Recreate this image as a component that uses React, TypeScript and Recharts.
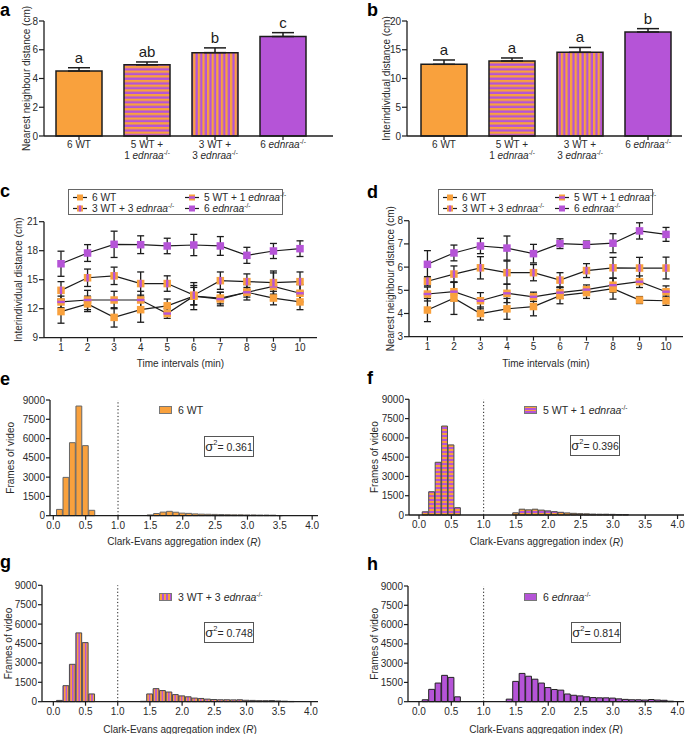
import React from 'react';
import {
  ComposedChart,
  BarChart,
  LineChart,
  Bar,
  Line,
  XAxis,
  YAxis,
  ErrorBar,
  ReferenceLine,
  LabelList,
  Cell,
} from 'recharts';

const ORANGE = '#F9A13D';
const PURPLE = '#B554D7';
const INK = '#1c1c1c';
const TICK = '#2a2a2a';
const FONT = '"Liberation Sans", Arial, Helvetica, sans-serif';

// ---------- panels a / b ----------
const groupKeys = ['6WT', '5WT+1', '3WT+3', '6E'];
const groupLine1 = ['6 WT', '5 WT +', '3 WT +', '6 '];
const groupLine1Gene = [false, false, false, true];
const groupLine2 = ['', '1 ', '3 ', ''];
const groupFills = [ORANGE, 'url(#hStripeBar)', 'url(#vStripeBar)', PURPLE];

const nndMean = [4.52, 4.95, 5.8, 6.92];
const nndSem = [0.23, 0.2, 0.33, 0.27];
const nndLetters = ['a', 'ab', 'b', 'c'];
const nndTicks = [0, 2, 4, 6, 8];

const iidMean = [12.47, 13.04, 14.55, 18.09];
const iidSem = [0.75, 0.53, 0.85, 0.58];
const iidLetters = ['a', 'a', 'a', 'b'];
const iidTicks = [0, 5, 10, 15, 20];

// ---------- panels c / d ----------
const intervals = [1, 2, 3, 4, 5, 6, 7, 8, 9, 10];

const cWT6 = [11.7, 12.5, 11.1, 11.9, 12.3, 13.3, 13.1, 13.7, 13.1, 12.7];
const cWT6Sem = [1.2, 0.8, 1.0, 1.3, 0.7, 1.4, 0.6, 0.8, 0.7, 0.8];
const c51 = [12.7, 12.9, 12.9, 12.9, 11.5, 13.3, 13.0, 13.7, 14.3, 13.6];
const c51Sem = [0.6, 1.0, 0.9, 0.9, 0.5, 0.9, 0.7, 0.5, 1.4, 0.9];
const c33 = [13.9, 15.2, 15.4, 14.6, 14.6, 13.4, 14.9, 14.8, 14.7, 14.8];
const c33Sem = [0.9, 0.9, 0.9, 1.2, 0.8, 1.0, 0.9, 0.8, 1.2, 1.0];
const cE6 = [16.65, 17.76, 18.66, 18.62, 18.49, 18.59, 18.49, 17.52, 17.97, 18.21];
const cE6Sem = [1.3, 0.87, 1.36, 0.92, 0.8, 1.1, 0.97, 0.83, 0.78, 0.81];
const cTicks = [9, 12, 15, 18, 21];

const dWT6 = [4.15, 4.66, 4.0, 4.2, 4.3, 4.77, 4.9, 5.07, 4.58, 4.55];
const dWT6Sem = [0.5, 0.7, 0.28, 0.45, 0.4, 0.35, 0.25, 0.45, 0.15, 0.2];
const d51 = [4.84, 4.94, 4.55, 4.87, 4.72, 4.9, 5.03, 5.22, 5.37, 4.94];
const d51Sem = [0.3, 0.4, 0.35, 0.4, 0.2, 0.25, 0.2, 0.3, 0.25, 0.25];
const d33 = [5.39, 5.7, 5.97, 5.76, 5.76, 5.44, 5.85, 5.97, 5.96, 5.96];
const d33Sem = [0.2, 0.35, 0.48, 0.5, 0.35, 0.32, 0.3, 0.45, 0.46, 0.47];
const dE6 = [6.12, 6.61, 6.91, 6.82, 6.58, 7.01, 6.97, 7.03, 7.56, 7.41];
const dE6Sem = [0.59, 0.34, 0.33, 0.52, 0.4, 0.21, 0.15, 0.41, 0.35, 0.3];
const dTicks = [3, 4, 5, 6, 7, 8];

// ---------- panels e-h ----------
const rBins = [
  0.1, 0.2, 0.3, 0.4, 0.5, 0.6, 0.7, 0.8, 0.9, 1.0, 1.1, 1.2, 1.3, 1.4, 1.5, 1.6, 1.7, 1.8, 1.9, 2.0,
  2.1, 2.2, 2.3, 2.4, 2.5, 2.6, 2.7, 2.8, 2.9, 3.0, 3.1, 3.2, 3.3, 3.4, 3.5, 3.6, 3.7, 3.8, 3.9,
];
const rTicks = [0, 0.5, 1, 1.5, 2, 2.5, 3, 3.5, 4];
const countTicks = [0, 1500, 3000, 4500, 6000, 7500, 9000];

const framesWT6 = [
  490, 2980, 5680, 8530, 5450, 420, 0, 0, 0, 0, 0, 0, 0, 0,
  60, 170, 280, 340, 270, 200, 180, 140, 120, 110, 100, 90, 80, 70, 70, 60, 60, 50, 50, 40, 10,
  0, 0, 0, 0,
];
const frames51 = [
  250, 1810, 4100, 6920, 5450, 570, 0, 0, 0, 0, 0, 0, 0, 0,
  170, 450, 400, 450, 380, 320, 260, 210, 160, 130, 100, 90, 70, 60, 60, 50, 40, 30, 0, 0, 0,
  0, 0, 0, 0,
];
const frames33 = [
  100, 1240, 2890, 5320, 4570, 600, 0, 0, 0, 0, 0, 0, 0, 30,
  600, 1010, 860, 750, 550, 450, 380, 280, 250, 200, 170, 150, 150, 140, 150, 110, 100, 80, 80, 90, 60,
  40, 20, 0, 0,
];
const framesE6 = [
  150, 960, 1450, 2050, 1890, 380, 0, 0, 0, 0, 0, 0, 0, 200,
  1580, 2200, 1980, 1750, 1450, 1100, 950, 900, 600, 500, 450, 380, 320, 300, 300, 280, 220, 180, 150, 150, 130,
  170, 130, 110, 40,
];
const sigmaValues = ['0.361', '0.396', '0.748', '0.814'];

// ---------- helpers ----------
const Gene = ({ prefix }: { prefix: string }) => (
  <span>
    {prefix}
    <i>ednraa</i>
    <sup style={{ fontSize: 6.5, lineHeight: 0, verticalAlign: 'super' }}>-/-</sup>
  </span>
);

function GroupTick(props: any) {
  const { x, y, payload } = props;
  const i = groupKeys.indexOf(payload.value);
  return (
    <text textAnchor="middle" fontSize={10} fill={TICK} fontFamily={FONT}>
      <tspan x={x} y={y + 7}>
        {groupLine1[i]}
        {groupLine1Gene[i] ? <tspan fontStyle="italic">ednraa</tspan> : null}
        {groupLine1Gene[i] ? <tspan dy={-4} fontSize={6.5}>-/-</tspan> : null}
      </tspan>
      {groupLine2[i] ? (
        <tspan x={x} y={y + 18}>
          {groupLine2[i]}
          <tspan fontStyle="italic">ednraa</tspan>
          <tspan dy={-4} fontSize={6.5}>-/-</tspan>
        </tspan>
      ) : null}
    </text>
  );
}

const yTitle = (text: string, cx: number, cy: number) => ({
  content: () => (
    <text
      x={cx}
      y={cy}
      transform={`rotate(-90, ${cx}, ${cy})`}
      textAnchor="middle"
      dominantBaseline="central"
      fontSize={10}
      fill={TICK}
      fontFamily={FONT}
    >
      {text}
    </text>
  ),
});

const xTitle = (cx: number, cy: number, clark: boolean) => ({
  content: () => (
    <text x={cx} y={cy} textAnchor="middle" dominantBaseline="central" fontSize={10} fill={TICK} fontFamily={FONT}>
      {clark ? (
        <>
          Clark-Evans aggregation index (<tspan fontStyle="italic">R</tspan>)
        </>
      ) : (
        'Time intervals (min)'
      )}
    </text>
  ),
});

const axisLine = { stroke: INK, strokeWidth: 1.3 };
const tickLine = { stroke: INK, strokeWidth: 1.2 };
const tickStyle = { fontSize: 10, fill: TICK, fontFamily: FONT };

// ---------- bar charts a/b ----------
function GroupBarChart(p: any) {
  const data = groupKeys.map((g, i) => ({
    g,
    mean: p.mean[i],
    err: [0, p.sem[i]],
    top: p.mean[i] + p.sem[i],
    letter: p.letters[i],
  }));
  const plotTop = p.margin.top;
  const plotBottom = p.height - p.margin.bottom - 34;
  return (
    <ComposedChart width={p.width} height={p.height} data={data} margin={p.margin}>
      <XAxis
        dataKey="g"
        type="category"
        padding={p.padding}
        height={34}
        interval={0}
        tick={(t: any) => <GroupTick {...t} />}
        tickLine={tickLine}
        axisLine={axisLine}
        tickSize={4}
        tickMargin={1}
      />
      <YAxis
        type="number"
        domain={[p.ticks[0], p.ticks[p.ticks.length - 1]]}
        ticks={p.ticks}
        interval={0}
        width={p.yWidth}
        tick={tickStyle}
        tickLine={tickLine}
        axisLine={axisLine}
        tickSize={5}
        tickMargin={1}
        label={yTitle(p.yLabel, p.yLabelX, (plotTop + plotBottom) / 2)}
      />
      <Bar dataKey="mean" barSize={46} stroke={INK} strokeWidth={1.5} isAnimationActive={false}>
        {data.map((d, i) => (
          <Cell key={d.g} fill={groupFills[i]} />
        ))}
        <ErrorBar dataKey="err" width={11} stroke={INK} strokeWidth={1.5} direction="y" />
      </Bar>
      <Line dataKey="top" stroke="none" dot={false} activeDot={false} legendType="none" isAnimationActive={false}>
        <LabelList dataKey="letter" position="top" offset={5} fontSize={15} fill={INK} fontFamily={FONT} />
      </Line>
    </ComposedChart>
  );
}

// ---------- line charts c/d ----------
function markerEl(kind: string, cx: number, cy: number, key: string, s = 7) {
  const h = s / 2;
  const fill = kind === 'p' ? PURPLE : ORANGE;
  return (
    <g key={key}>
      <rect x={cx - h} y={cy - h} width={s} height={s} fill={fill} />
      {kind === 'h' ? <rect x={cx - h} y={cy - 1.2} width={s} height={2.4} fill={PURPLE} /> : null}
      {kind === 'v' ? <rect x={cx - 1.2} y={cy - h} width={2.4} height={s} fill={PURPLE} /> : null}
    </g>
  );
}

const seriesDefs = [
  { key: 'wt6', kind: 'o' },
  { key: 'm51', kind: 'h' },
  { key: 'm33', kind: 'v' },
  { key: 'e6', kind: 'p' },
];

function TimeChart(p: any) {
  const data = intervals.map((t, i) => ({
    t,
    wt6: p.s[0][i],
    wt6e: p.e[0][i],
    m51: p.s[1][i],
    m51e: p.e[1][i],
    m33: p.s[2][i],
    m33e: p.e[2][i],
    e6: p.s[3][i],
    e6e: p.e[3][i],
  }));
  const plotTop = p.margin.top;
  const plotBottom = p.height - p.margin.bottom - 20;
  const plotLeft = p.yWidth;
  const plotRight = p.width - p.margin.right;
  return (
    <LineChart width={p.width} height={p.height} data={data} margin={p.margin}>
      <XAxis
        dataKey="t"
        type="number"
        domain={p.xDomain}
        ticks={intervals}
        interval={0}
        allowDataOverflow
        height={20}
        tick={tickStyle}
        tickLine={tickLine}
        axisLine={axisLine}
        tickSize={4}
        tickMargin={2}
        label={xTitle((plotLeft + plotRight) / 2, 183, false)}
      />
      <YAxis
        type="number"
        domain={[p.ticks[0], p.ticks[p.ticks.length - 1]]}
        ticks={p.ticks}
        interval={0}
        width={p.yWidth}
        tick={tickStyle}
        tickLine={tickLine}
        axisLine={axisLine}
        tickSize={5}
        tickMargin={1}
        label={yTitle(p.yLabel, p.yLabelX, (plotTop + plotBottom) / 2)}
      />
      {seriesDefs.map((s) => (
        <Line
          key={s.key}
          dataKey={s.key}
          stroke={INK}
          strokeWidth={1.2}
          isAnimationActive={false}
          activeDot={false}
          dot={(d: any) => markerEl(s.kind, d.cx, d.cy, `${s.key}-${d.index}`, 7.5)}
        >
          <ErrorBar dataKey={`${s.key}e`} width={3.5} stroke={INK} strokeWidth={1.3} direction="y" />
        </Line>
      ))}
    </LineChart>
  );
}

// ---------- histograms e-h ----------
function Histo(p: any) {
  const data = rBins.map((r, i) => ({ r, n: p.counts[i] }));
  const plotTop = p.margin.top;
  const plotBottom = p.height - p.margin.bottom - p.xHeight;
  const plotLeft = p.yWidth;
  const plotRight = p.width - p.margin.right;
  return (
    <BarChart width={p.width} height={p.height} data={data} margin={p.margin}>
      <XAxis
        dataKey="r"
        type="number"
        domain={p.xDomain}
        ticks={rTicks}
        interval={0}
        allowDataOverflow
        height={p.xHeight}
        tick={tickStyle}
        tickFormatter={(v: number) => v.toFixed(1)}
        tickLine={tickLine}
        axisLine={axisLine}
        tickSize={4}
        tickMargin={2}
        label={xTitle((plotLeft + plotRight) / 2, p.xLabelY, true)}
      />
      <YAxis
        type="number"
        domain={[0, 9000]}
        ticks={countTicks}
        interval={0}
        width={p.yWidth}
        tick={tickStyle}
        tickLine={tickLine}
        axisLine={axisLine}
        tickSize={4}
        tickMargin={1}
        label={yTitle('Frames of video', p.yLabelX, (plotTop + plotBottom) / 2)}
      />
      <ReferenceLine x={1} stroke={INK} strokeWidth={1} strokeDasharray="1.2 2.2" />
      <Bar dataKey="n" fill={p.fill} stroke={p.stroke} strokeWidth={1} barSize={6.5} isAnimationActive={false} />
    </BarChart>
  );
}

// ---------- overlays ----------
function LineLegend({ left, top }: { left: number; top: number }) {
  const items = [
    { kind: 'o', label: <span>6 WT</span>, x: 4, y: 2 },
    { kind: 'h', label: <Gene prefix="5 WT + 1 " />, x: 116, y: 2 },
    { kind: 'v', label: <Gene prefix="3 WT + 3 " />, x: 4, y: 13 },
    { kind: 'p', label: <Gene prefix="6 " />, x: 116, y: 13 },
  ];
  return (
    <div
      style={{
        position: 'absolute',
        left,
        top,
        width: 215,
        height: 26,
        border: '1px solid #666',
        boxSizing: 'border-box',
        background: '#fff',
        fontFamily: FONT,
        fontSize: 10.2,
        color: TICK,
      }}
    >
      {items.map((it, i) => (
        <div
          key={i}
          style={{ position: 'absolute', left: it.x, top: it.y, height: 11, display: 'flex', alignItems: 'center', whiteSpace: 'nowrap' }}
        >
          <svg width={14} height={9} style={{ marginRight: 5 }}>
            <line x1={0} y1={4.5} x2={14} y2={4.5} stroke={INK} strokeWidth={1.2} />
            {markerEl(it.kind, 7, 4.5, 'm', 6)}
          </svg>
          {it.label}
        </div>
      ))}
    </div>
  );
}

function HistLegend({ left, top, swatch, children }: any) {
  return (
    <div
      style={{
        position: 'absolute',
        left,
        top,
        height: 13,
        display: 'flex',
        alignItems: 'center',
        whiteSpace: 'nowrap',
        fontFamily: FONT,
        fontSize: 10.5,
        color: TICK,
      }}
    >
      <div style={{ width: 13, height: 8, border: '1px solid #777', boxSizing: 'border-box', background: swatch, marginRight: 6 }} />
      {children}
    </div>
  );
}

function SigmaBox({ left, top, value }: any) {
  return (
    <div
      style={{
        position: 'absolute',
        left,
        top,
        width: 50,
        height: 21,
        border: '1px solid #555',
        boxSizing: 'border-box',
        display: 'flex',
        alignItems: 'center',
        justifyContent: 'center',
        fontFamily: FONT,
        fontSize: 10.5,
        color: TICK,
        whiteSpace: 'nowrap',
      }}
    >
      <span style={{ fontSize: 13, lineHeight: 1 }}>σ</span>
      <span style={{ fontSize: 7.5, position: 'relative', top: -4 }}>2</span>
      <span>= {value}</span>
    </div>
  );
}

const PanelLetter = ({ ch, left, top }: any) => (
  <div
    style={{
      position: 'absolute',
      left,
      top,
      fontFamily: FONT,
      fontWeight: 'bold',
      fontSize: 18,
      lineHeight: '15px',
      height: 18,
      color: '#000',
    }}
  >
    {ch}
  </div>
);

const hGrad = `repeating-linear-gradient(180deg, ${ORANGE} 0px, ${ORANGE} 1.5px, ${PURPLE} 1.5px, ${PURPLE} 3px)`;
const vGrad = `repeating-linear-gradient(90deg, ${ORANGE} 0px, ${ORANGE} 2px, ${PURPLE} 2px, ${PURPLE} 4px)`;

function Patterns() {
  return (
    <svg width={0} height={0} style={{ position: 'absolute' }}>
      <defs>
        <pattern id="hStripeBar" patternUnits="userSpaceOnUse" width={8} height={4.7}>
          <rect width={8} height={4.7} fill={ORANGE} />
          <rect y={2.35} width={8} height={2.35} fill={PURPLE} />
        </pattern>
        <pattern id="vStripeBar" patternUnits="userSpaceOnUse" width={4.6} height={8}>
          <rect width={4.6} height={8} fill={ORANGE} />
          <rect x={2.3} width={2.3} height={8} fill={PURPLE} />
        </pattern>
        <pattern id="hStripeHist" patternUnits="userSpaceOnUse" width={8} height={4}>
          <rect width={8} height={4} fill={ORANGE} />
          <rect y={2} width={8} height={2} fill={PURPLE} />
        </pattern>
        <pattern id="vStripeHist" patternUnits="userSpaceOnUse" width={3.2} height={8}>
          <rect width={3.2} height={8} fill={ORANGE} />
          <rect x={1.6} width={1.6} height={8} fill={PURPLE} />
        </pattern>
      </defs>
    </svg>
  );
}

export default function App() {
  return (
    <div
      style={{
        position: 'absolute',
        left: 0,
        top: 0,
        width: 685,
        height: 734,
        background: '#fff',
        overflow: 'hidden',
        fontFamily: FONT,
      }}
    >
      <Patterns />

      {/* a */}
      <div style={{ position: 'absolute', left: 0, top: 0 }}>
        <GroupBarChart
          width={340}
          height={170}
          margin={{ top: 21, right: 7, bottom: 0, left: 0 }}
          yWidth={44}
          padding={{ left: 1, right: 16 }}
          mean={nndMean}
          sem={nndSem}
          letters={nndLetters}
          ticks={nndTicks}
          yLabel="Nearest neighbour distance (cm)"
          yLabelX={26}
        />
      </div>
      {/* b */}
      <div style={{ position: 'absolute', left: 340, top: 0 }}>
        <GroupBarChart
          width={345}
          height={170}
          margin={{ top: 21, right: 3, bottom: 0, left: 0 }}
          yWidth={67}
          padding={{ left: 3, right: 0 }}
          mean={iidMean}
          sem={iidSem}
          letters={iidLetters}
          ticks={iidTicks}
          yLabel="Interindividual distance (cm)"
          yLabelX={46}
        />
      </div>

      {/* c */}
      <div style={{ position: 'absolute', left: 0, top: 180 }}>
        <TimeChart
          width={340}
          height={195}
          margin={{ top: 41.7, right: 23, bottom: 17.3, left: 0 }}
          yWidth={44}
          xDomain={[0.36, 10.64]}
          ticks={cTicks}
          s={[cWT6, c51, c33, cE6]}
          e={[cWT6Sem, c51Sem, c33Sem, cE6Sem]}
          yLabel="Interindividual distance (cm)"
          yLabelX={19}
        />
      </div>
      <LineLegend left={68} top={189} />

      {/* d */}
      <div style={{ position: 'absolute', left: 340, top: 180 }}>
        <TimeChart
          width={345}
          height={195}
          margin={{ top: 40.7, right: 2, bottom: 18.3, left: 0 }}
          yWidth={69}
          xDomain={[0.305, 10.64]}
          ticks={dTicks}
          s={[dWT6, d51, d33, dE6]}
          e={[dWT6Sem, d51Sem, d33Sem, dE6Sem]}
          yLabel="Nearest neighbour distance (cm)"
          yLabelX={51}
        />
      </div>
      <LineLegend left={438} top={189} />

      {/* e */}
      <div style={{ position: 'absolute', left: 0, top: 385 }}>
        <Histo
          width={340}
          height={165}
          margin={{ top: 15, right: 22, bottom: 14.3, left: 0 }}
          yWidth={50}
          xHeight={20}
          xDomain={[-0.051, 4.09]}
          counts={framesWT6}
          fill={ORANGE}
          stroke="#666"
          yLabelX={11}
          xLabelY={156.7}
        />
      </div>
      <HistLegend left={159} top={403} swatch={ORANGE}>
        <span>6 WT</span>
      </HistLegend>
      <SigmaBox left={204} top={436} value={sigmaValues[0]} />

      {/* f */}
      <div style={{ position: 'absolute', left: 340, top: 385 }}>
        <Histo
          width={345}
          height={165}
          margin={{ top: 14.3, right: 1, bottom: 15, left: 0 }}
          yWidth={69}
          xHeight={20}
          xDomain={[-0.155, 4.1]}
          counts={frames51}
          fill="url(#hStripeHist)"
          stroke="#4a4a4a"
          yLabelX={35}
          xLabelY={156.7}
        />
      </div>
      <HistLegend left={524} top={403} swatch={hGrad}>
        <Gene prefix="5 WT + 1 " />
      </HistLegend>
      <SigmaBox left={570} top={435} value={sigmaValues[1]} />

      {/* g */}
      <div style={{ position: 'absolute', left: 0, top: 575 }}>
        <Histo
          width={340}
          height={159}
          margin={{ top: 10.3, right: 22, bottom: 10.3, left: 0 }}
          yWidth={42}
          xHeight={22}
          xDomain={[-0.176, 4.11]}
          counts={frames33}
          fill="url(#vStripeHist)"
          stroke="#4a4a4a"
          yLabelX={8}
          xLabelY={154}
        />
      </div>
      <HistLegend left={159} top={590} swatch={vGrad}>
        <Gene prefix="3 WT + 3 " />
      </HistLegend>
      <SigmaBox left={204} top={622} value={sigmaValues[2]} />

      {/* h */}
      <div style={{ position: 'absolute', left: 340, top: 575 }}>
        <Histo
          width={345}
          height={159}
          margin={{ top: 11, right: 1, bottom: 10.3, left: 0 }}
          yWidth={68}
          xHeight={22}
          xDomain={[-0.17, 4.1]}
          counts={framesE6}
          fill={PURPLE}
          stroke="#222"
          yLabelX={35}
          xLabelY={154}
        />
      </div>
      <HistLegend left={524} top={590} swatch={PURPLE}>
        <Gene prefix="6 " />
      </HistLegend>
      <SigmaBox left={571} top={622} value={sigmaValues[3]} />

      <PanelLetter ch="a" left={0} top={3} />
      <PanelLetter ch="b" left={367} top={3} />
      <PanelLetter ch="c" left={0} top={184} />
      <PanelLetter ch="d" left={367} top={185} />
      <PanelLetter ch="e" left={0} top={372} />
      <PanelLetter ch="f" left={367} top={371} />
      <PanelLetter ch="g" left={0} top={555} />
      <PanelLetter ch="h" left={367} top={557} />
    </div>
  );
}
